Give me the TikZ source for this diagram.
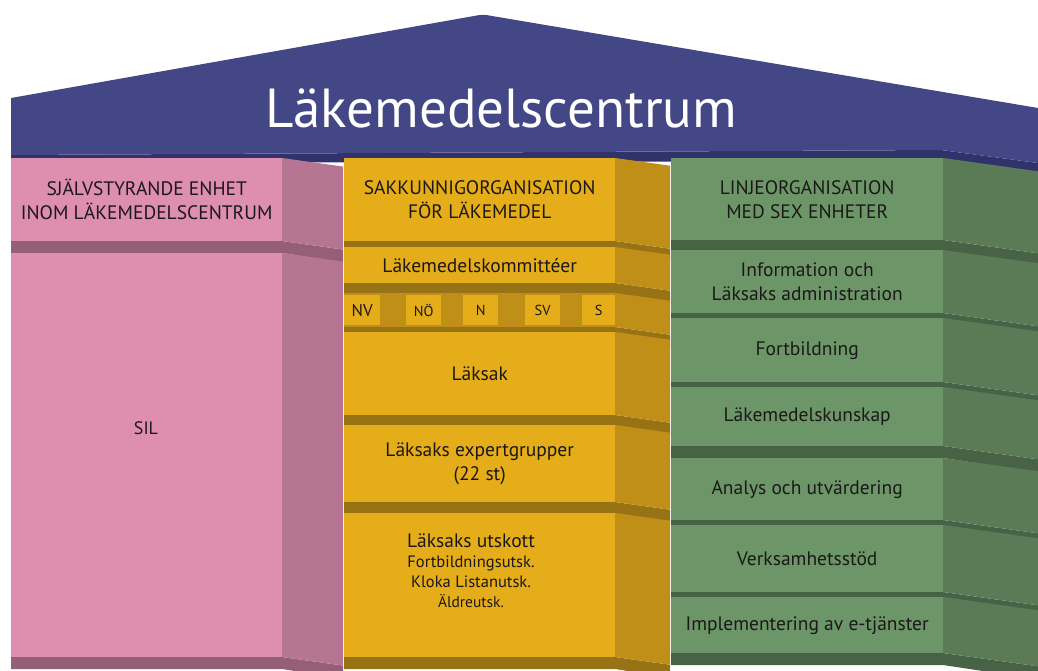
\documentclass[tikz,border=0pt]{standalone}
\usepackage{fontspec}
\setmainfont{PT Sans}
\definecolor{roof}{HTML}{444785}
\definecolor{roofU}{HTML}{30336A}
\definecolor{pinkF}{HTML}{DE8EB1}
\definecolor{pinkS}{HTML}{B57593}
\definecolor{pinkU}{HTML}{955F78}
\definecolor{yelF}{HTML}{E5AD1A}
\definecolor{yelS}{HTML}{BF8F17}
\definecolor{yelU}{HTML}{987316}
\definecolor{grnF}{HTML}{6C9667}
\definecolor{grnS}{HTML}{5A7B56}
\definecolor{grnU}{HTML}{486246}
\definecolor{txt}{HTML}{1C1819}
\tikzset{
  slabnode/.style={anchor=north west, inner sep=0pt, align=center, text=txt,
    font=\fontsize{19.5}{23.5}\selectfont},
  hdr/.style={font=\fontsize{19.5}{24}\selectfont},
  smallbox/.style={anchor=north west, inner sep=0pt, fill=yelF, text=txt,
    minimum width=35pt, minimum height=30pt, font=\fontsize{14.5}{15}\selectfont},
  freetext/.style={align=center, text=txt, inner sep=0pt},
}
\newcommand{\usecol}[6]{\def\xa{#1}\def\xb{#2}\def\xc{#3}\def\cf{#4}\def\cs{#5}\def\cu{#6}}
\newcommand{\slab}[5]{%
  \pgfmathsetmacro\dd{0.14*(\xc-\xb)}%
  \pgfmathsetmacro\ww{\xb-\xa}%
  \pgfmathsetmacro\hh{#2-#1}%
  \fill[fill=\cu] (\xa,#2) -- (\xb,#2) -- (\xc,#2+\dd) -- (\xc,#2+\dd+13) -- (\xb,#2+12) -- (\xa,#2+12) -- cycle;
  \fill[fill=\cs] (\xb,#1) -- (\xc,#1+\dd) -- (\xc,#2+\dd) -- (\xb,#2) -- cycle;
  \node[slabnode, fill=\cf, minimum width=\ww pt, minimum height=\hh pt, #5] (#3) at (\xa,#1) {#4};
}
\begin{document}
\begin{tikzpicture}[x=1pt,y=-1pt]
\useasboundingbox (0,0) rectangle (1038,670);
\clip (0,0) rectangle (1038,670);
% roof
\fill[roofU] (11,155) -- (941,150) -- (1038,163) -- (1038,176) -- (941,161) -- (11,163) -- cycle;
\fill[roof] (11,98) -- (474,16) .. controls (480,14.5) and (486,14.5) .. (492,16) -- (1038,108) -- (1038,163) -- (941,150) -- (11,155) -- cycle;
\node[text=white, inner sep=0pt, font=\fontsize{55}{60}\selectfont] (title) at (501,108) {Läkemedelscentrum};
% pink column
\usecol{11}{282}{343}{pinkF}{pinkS}{pinkU}
\slab{158}{241}{pinkhead}{SJÄLVSTYRANDE ENHET\\INOM LÄKEMEDELSCENTRUM}{hdr}
\slab{253}{657}{sil}{}{}
\node[freetext, font=\fontsize{18}{20}\selectfont] (siltext) at (146,428) {SIL};
% yellow column
\usecol{344}{615}{670}{yelF}{yelS}{yelU}
\slab{158}{241}{yelhead}{SAKKUNNIGORGANISATION\\FÖR LÄKEMEDEL}{hdr}
\slab{247}{283}{komm}{Läkemedelskommittéer}{}
\slab{293}{327}{row}{}{fill=yelS}
\node[smallbox, minimum width=36pt, font=\fontsize{17}{17}\selectfont] (nv) at (344,295) {NV};
\node[smallbox] (no) at (406,295) {NÖ};
\node[smallbox] (n) at (463,295) {N};
\node[smallbox] (sv) at (525,295) {SV};
\node[smallbox, minimum width=33pt] (s) at (582,295) {S};
\slab{332}{415}{laksak}{Läksak}{}
\slab{425}{502}{expert}{Läksaks expertgrupper\\(22 st)}{}
\slab{513}{657}{utskott}{}{}
\node[freetext, font=\fontsize{16.5}{20}\selectfont] (utsktext) at (471,571)
  {{\fontsize{19.5}{20}\selectfont Läksaks utskott}\\Fortbildningsutsk.\\Kloka Listanutsk.\\{\fontsize{15.5}{20}\selectfont Äldreutsk.}};
% green column
\usecol{671}{943}{1038}{grnF}{grnS}{grnU}
\slab{158}{240}{grnhead}{LINJEORGANISATION\\MED SEX ENHETER}{hdr}
\slab{250}{313}{info}{Information och\\Läksaks administration}{}
\slab{318}{382}{fort}{Fortbildning}{}
\slab{387}{446}{kunskap}{Läkemedelskunskap}{}
\slab{458}{520}{analys}{Analys och utvärdering}{}
\slab{525}{592}{verks}{Verksamhetsstöd}{}
\slab{597}{653}{impl}{Implementering av e-tjänster}{}
\end{tikzpicture}
\end{document}
